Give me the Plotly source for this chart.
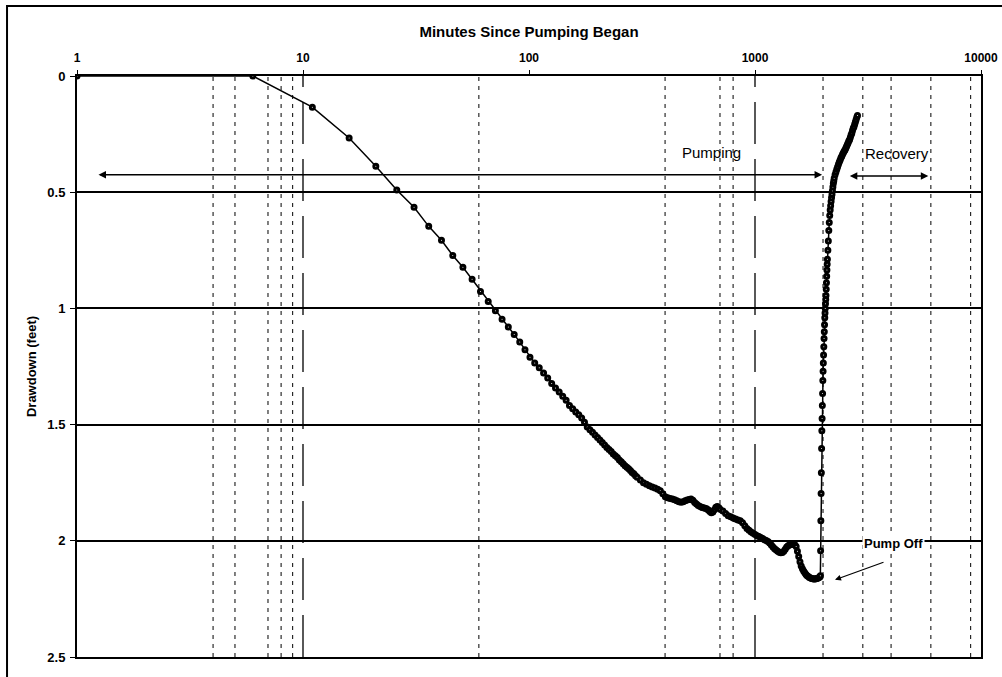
import numpy as np
import plotly.graph_objects as go

# ---- Pumping phase: elapsed minutes and drawdown (feet) ----
pump_minutes = [
    1, 6, 11, 16, 21, 26, 31, 36, 41, 46, 51, 56, 61, 66, 71, 76, 81, 86, 91, 96,
    101, 106, 111, 116, 121, 126, 131, 136, 141, 146, 151, 156, 161, 166, 171, 176,
    181, 186, 191, 196, 201, 206, 211, 216, 221, 226, 231, 236, 241, 246, 251, 256,
    261, 266, 271, 276, 281, 286, 291, 296, 301,
    311, 321, 331, 341, 351, 361, 371, 381, 391, 401, 411, 421, 431, 441, 451, 461,
    471, 481, 491, 501, 511, 521, 531, 541, 551, 561, 571, 581, 591, 601, 611, 621,
    631, 641, 651, 661, 671, 681, 691, 701,
    721, 741, 761, 781, 801, 821, 841, 861, 881, 901, 921, 941, 961, 981, 1001, 1021,
    1041, 1061, 1081, 1101, 1121, 1141, 1161, 1181, 1201, 1221, 1241, 1261, 1281,
    1301, 1321, 1341, 1361, 1381, 1401, 1421, 1441, 1461, 1481, 1501, 1521, 1541,
    1561, 1581, 1601, 1621, 1641, 1661, 1681, 1701, 1721, 1741, 1761, 1781, 1801,
    1821, 1841, 1861, 1881, 1901, 1921, 1941,
]
pump_drawdown = [
    0.000, 0.000, 0.134, 0.267, 0.388, 0.491, 0.565, 0.647, 0.707, 0.772, 0.823,
    0.875, 0.927, 0.970, 1.010, 1.047, 1.080, 1.112, 1.145, 1.178,
    1.210, 1.235, 1.255, 1.278, 1.300, 1.323, 1.343, 1.360, 1.378, 1.395, 1.418,
    1.432, 1.446, 1.458, 1.472, 1.490, 1.510, 1.522, 1.533, 1.545, 1.556, 1.566,
    1.577, 1.588, 1.598, 1.607, 1.616, 1.626, 1.634, 1.642, 1.652, 1.660, 1.668,
    1.677, 1.684, 1.690, 1.698, 1.706, 1.712, 1.720, 1.727,
    1.738, 1.750, 1.757, 1.763, 1.768, 1.773, 1.778, 1.785, 1.798, 1.810, 1.815,
    1.818, 1.820, 1.823, 1.828, 1.832, 1.834, 1.832, 1.828, 1.824, 1.822, 1.820,
    1.826, 1.835, 1.842, 1.848, 1.852, 1.856, 1.858, 1.860, 1.862, 1.868, 1.874,
    1.879, 1.876, 1.866, 1.856, 1.852, 1.857, 1.864,
    1.872, 1.882, 1.892, 1.897, 1.902, 1.906, 1.910, 1.914, 1.922, 1.935, 1.947,
    1.955, 1.962, 1.968, 1.973, 1.978, 1.982, 1.986, 1.990, 1.995, 1.999, 2.003,
    2.010, 2.018, 2.027, 2.034, 2.040, 2.045, 2.049, 2.051, 2.050, 2.045, 2.036,
    2.027, 2.021, 2.018, 2.016, 2.015, 2.015, 2.017, 2.025, 2.045, 2.068, 2.090,
    2.108, 2.120, 2.130, 2.138, 2.145, 2.150, 2.154, 2.158, 2.160, 2.162, 2.163,
    2.164, 2.164, 2.163, 2.162, 2.160, 2.158, 2.155,
]

# ---- Recovery phase: minutes since pumping began and residual drawdown ----
recovery_minutes = [
    1946, 1951, 1956, 1961, 1966, 1971, 1976, 1981, 1986, 1991, 1996, 2001, 2006,
    2011, 2016, 2021, 2026, 2031, 2036, 2041, 2046, 2051, 2056, 2061, 2066, 2071,
    2076, 2081, 2086, 2091,
    2101, 2111, 2121, 2131, 2141, 2151, 2161, 2171, 2181, 2191, 2201, 2211, 2221,
    2231, 2241,
    2261, 2281, 2301, 2321, 2341, 2361, 2381, 2401, 2421, 2441, 2461, 2481, 2501,
    2521, 2541, 2561, 2581, 2601, 2621, 2641, 2661, 2681, 2701, 2721, 2741, 2761,
    2781, 2801, 2821, 2841,
]
recovery_drawdown = [
    2.150, 2.043, 1.914, 1.797, 1.707, 1.603, 1.526, 1.474, 1.418, 1.366, 1.310,
    1.270, 1.235, 1.200, 1.165, 1.130, 1.100, 1.070, 1.040, 1.020, 1.000, 0.980,
    0.962, 0.945, 0.918, 0.890, 0.862, 0.835, 0.810, 0.788,
    0.750, 0.710, 0.665, 0.630, 0.600, 0.577, 0.558, 0.540, 0.524, 0.510, 0.494,
    0.478, 0.463, 0.452, 0.440,
    0.425, 0.413, 0.401, 0.390, 0.380, 0.370, 0.361, 0.352, 0.345, 0.337, 0.330,
    0.324, 0.318, 0.311, 0.303, 0.296, 0.288, 0.280, 0.274, 0.265, 0.254, 0.246,
    0.235, 0.225, 0.218, 0.208, 0.198, 0.188, 0.178, 0.170,
]

# ---- Axis ticks ----
x_tick_values = [1, 10, 100, 1000, 10000]
x_tick_labels = ["1", "10", "100", "1000", "10000"]
y_tick_values = [0, 0.5, 1, 1.5, 2, 2.5]
y_tick_labels = ["0", "0.5", "1", "1.5", "2", "2.5"]

# Vertical reference lines (minutes)
short_dash_minutes = [4, 5, 7, 8, 9, 60, 400, 700, 800, 2000, 3000, 4000, 6000, 9000]
long_dash_minutes = [10, 1000]

# Phase spans for the double-headed arrows (minutes)
pumping_span = [1.226, 1980]
recovery_span = [2587, 5846]

FONT = "Arial, Liberation Sans, sans-serif"

fig = go.Figure()

series_style = dict(
    mode="lines+markers",
    line=dict(color="black", width=1.5),
    marker=dict(symbol="circle", size=4, color="white",
                line=dict(color="black", width=3)),
    showlegend=False,
    hoverinfo="x+y",
)
fig.add_trace(go.Scatter(x=pump_minutes, y=pump_drawdown, name="Pumping", **series_style))
fig.add_trace(go.Scatter(x=recovery_minutes, y=recovery_drawdown, name="Recovery", **series_style))

shapes = []
for m in short_dash_minutes:
    shapes.append(dict(type="line", xref="x", yref="paper", x0=m, x1=m, y0=0, y1=1,
                       line=dict(color="black", width=1, dash="4px,5px"), layer="below"))
for m in long_dash_minutes:
    shapes.append(dict(type="line", xref="x", yref="paper", x0=m, x1=m, y0=0, y1=1,
                       line=dict(color="black", width=1.3, dash="42px,15px"), layer="below"))

# frame around the whole chart
shapes.append(dict(type="rect", xref="paper", yref="paper",
                   x0=-0.0774, x1=1.032, y0=-0.04, y1=1.1205,
                   line=dict(color="black", width=2), fillcolor="rgba(0,0,0,0)"))

lg = np.log10
annotations = [
    # Pumping span arrow
    dict(x=lg(pumping_span[1]), y=0.425, ax=lg(pumping_span[0]), ay=0.425,
         xref="x", yref="y", axref="x", ayref="y", text="", showarrow=True,
         arrowhead=2, arrowside="end+start", arrowsize=1, arrowwidth=1.5,
         arrowcolor="black"),
    # Recovery span arrow
    dict(x=lg(recovery_span[1]), y=0.43, ax=lg(recovery_span[0]), ay=0.43,
         xref="x", yref="y", axref="x", ayref="y", text="", showarrow=True,
         arrowhead=2, arrowside="end+start", arrowsize=1, arrowwidth=1.5,
         arrowcolor="black"),
    dict(x=lg(645), y=0.328, xref="x", yref="y", text="Pumping", showarrow=False,
         font=dict(family=FONT, size=15, color="black")),
    dict(x=lg(4249), y=0.332, xref="x", yref="y", text="Recovery", showarrow=False,
         font=dict(family=FONT, size=15, color="black")),
    dict(x=lg(4080), y=2.013, xref="x", yref="y", text="Pump Off", showarrow=False,
         bgcolor="white", borderpad=1,
         font=dict(family=FONT, size=13, color="black", weight="bold")),
    dict(x=lg(2259), y=2.168, ax=lg(3760), ay=2.09,
         xref="x", yref="y", axref="x", ayref="y", text="", showarrow=True,
         arrowhead=2, arrowsize=1, arrowwidth=1.2, arrowcolor="black"),
]

fig.update_layout(
    width=1002, height=677,
    margin=dict(l=77, r=21, t=76, b=20, autoexpand=False),
    paper_bgcolor="white", plot_bgcolor="white",
    font=dict(family=FONT, color="black"),
    shapes=shapes,
    annotations=annotations,
)

fig.update_xaxes(
    type="log", range=[0, 4], side="top", automargin=False,
    tickvals=x_tick_values, ticktext=x_tick_labels,
    ticks="outside", ticklen=4, tickcolor="black", tickwidth=1,
    ticklabelstandoff=3,
    tickfont=dict(family=FONT, size=12, color="black", weight="bold"),
    showline=True, mirror=True, linecolor="black", linewidth=2,
    showgrid=False, zeroline=False,
    title=dict(text="Minutes Since Pumping Began", standoff=10,
               font=dict(family=FONT, size=15, color="black", weight="bold")),
)
fig.update_yaxes(
    range=[2.5, 0], automargin=False,
    tickvals=y_tick_values, ticktext=y_tick_labels,
    ticks="outside", ticklen=5, tickcolor="black", tickwidth=1,
    ticklabelstandoff=2,
    tickfont=dict(family=FONT, size=13, color="black", weight="bold"),
    showline=True, mirror=True, linecolor="black", linewidth=2,
    showgrid=True, gridcolor="black", gridwidth=1.5, zeroline=False,
    title=dict(text="Drawdown (feet)", standoff=8,
               font=dict(family=FONT, size=13, color="black", weight="bold")),
)

fig.write_html("out.html")
